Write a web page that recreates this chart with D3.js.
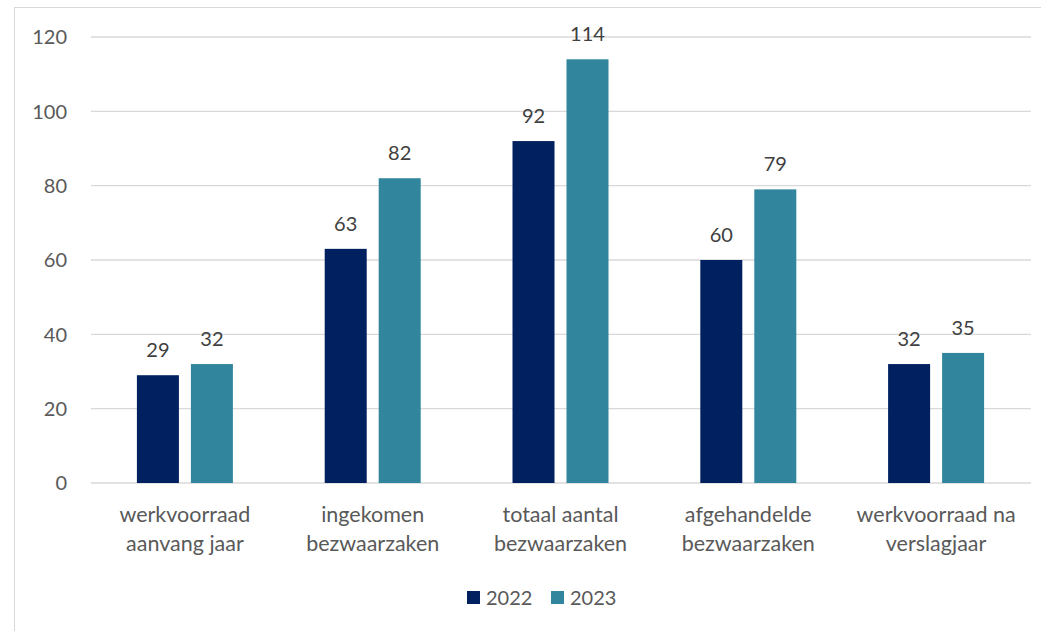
<!DOCTYPE html>
<html>
<head>
<meta charset="utf-8">
<script src="https://cdn.jsdelivr.net/npm/d3@7"></script>
<style>
  body { margin: 0; background: #fff; }
  text { font-family: Lato, "Open Sans", sans-serif; }
</style>
</head>
<body>
<div id="chart"></div>
<script>
// data
var categories = [
  ["werkvoorraad", "aanvang jaar"],
  ["ingekomen", "bezwaarzaken"],
  ["totaal aantal", "bezwaarzaken"],
  ["afgehandelde", "bezwaarzaken"],
  ["werkvoorraad na", "verslagjaar"]
];
var years = ["2022", "2023"];
var values2022 = [29, 63, 92, 60, 32];
var values2023 = [32, 82, 114, 79, 35];
var yTicks = [0, 20, 40, 60, 80, 100, 120];

var colors = ["#002060", "#31859C"];
var fs = 20;

var W = 1041, H = 631;
var svg = d3.select("#chart").append("svg")
    .attr("width", W)
    .attr("height", H);

// outer chart border (only left/top visible)
svg.append("rect")
    .attr("x", 14.5).attr("y", 7.5)
    .attr("width", 1100).attr("height", 700)
    .attr("fill", "none")
    .attr("stroke", "#d9d9d9")
    .attr("stroke-width", 1);

var x0 = d3.scaleBand()
    .domain(d3.range(categories.length))
    .range([91, 1030]);

var x1 = d3.scaleBand()
    .domain(years)
    .range([0, 96])
    .paddingInner(0.222);

var y = d3.scaleLinear()
    .domain([0, 120])
    .range([483, 37]);

// gridlines
svg.append("g")
  .selectAll("line")
  .data(yTicks)
  .enter()
  .append("line")
    .attr("x1", 91).attr("x2", 1031)
    .attr("y1", function (d) { return y(d); })
    .attr("y2", function (d) { return y(d); })
    .attr("stroke", "#d9d9d9")
    .attr("stroke-width", 1.3);

// y labels
svg.append("g")
  .selectAll("text")
  .data(yTicks)
  .enter()
  .append("text")
    .attr("x", 67)
    .attr("y", function (d) { return y(d); })
    .attr("dy", "0.36em")
    .attr("text-anchor", "end")
    .attr("font-size", fs)
    .attr("fill", "#595959")
    .text(function (d) { return d; });

// bars
var series = [values2022, values2023];
series.forEach(function (vals, si) {
  var g = svg.append("g");
  g.selectAll("rect")
    .data(vals)
    .enter()
    .append("rect")
      .attr("x", function (d, i) { return x0(i) + x0.bandwidth() / 2 - 48 + x1(years[si]); })
      .attr("y", function (d) { return y(d); })
      .attr("width", x1.bandwidth())
      .attr("height", function (d) { return y(0) - y(d); })
      .attr("fill", colors[si]);
  g.selectAll("text")
    .data(vals)
    .enter()
    .append("text")
      .attr("x", function (d, i) { return x0(i) + x0.bandwidth() / 2 - 48 + x1(years[si]) + x1.bandwidth() / 2; })
      .attr("y", function (d) { return y(d) - 18; })
      .attr("text-anchor", "middle")
      .attr("font-size", fs)
      .attr("fill", "#404040")
      .text(function (d) { return d; });
});

// category labels
var cat = svg.append("g")
  .selectAll("text")
  .data(categories)
  .enter()
  .append("text")
    .attr("x", function (d, i) { return x0(i) + x0.bandwidth() / 2; })
    .attr("y", 522)
    .attr("text-anchor", "middle")
    .attr("font-size", 21.5)
    .attr("fill", "#595959");
cat.append("tspan")
    .attr("x", function (d, i) { return x0(i) + x0.bandwidth() / 2; })
    .text(function (d) { return d[0]; });
cat.append("tspan")
    .attr("x", function (d, i) { return x0(i) + x0.bandwidth() / 2; })
    .attr("dy", 29)
    .text(function (d) { return d[1]; });

// legend
var legX = [467, 551];
var leg = svg.append("g")
  .selectAll("g")
  .data(years)
  .enter()
  .append("g")
    .attr("transform", function (d, i) { return "translate(" + legX[i] + ",591)"; });
leg.append("rect")
    .attr("width", 13).attr("height", 13)
    .attr("fill", function (d, i) { return colors[i]; });
leg.append("text")
    .attr("x", 19).attr("y", 6.5)
    .attr("dy", "0.36em")
    .attr("font-size", fs)
    .attr("fill", "#595959")
    .text(function (d) { return d; });
</script>
</body>
</html>
